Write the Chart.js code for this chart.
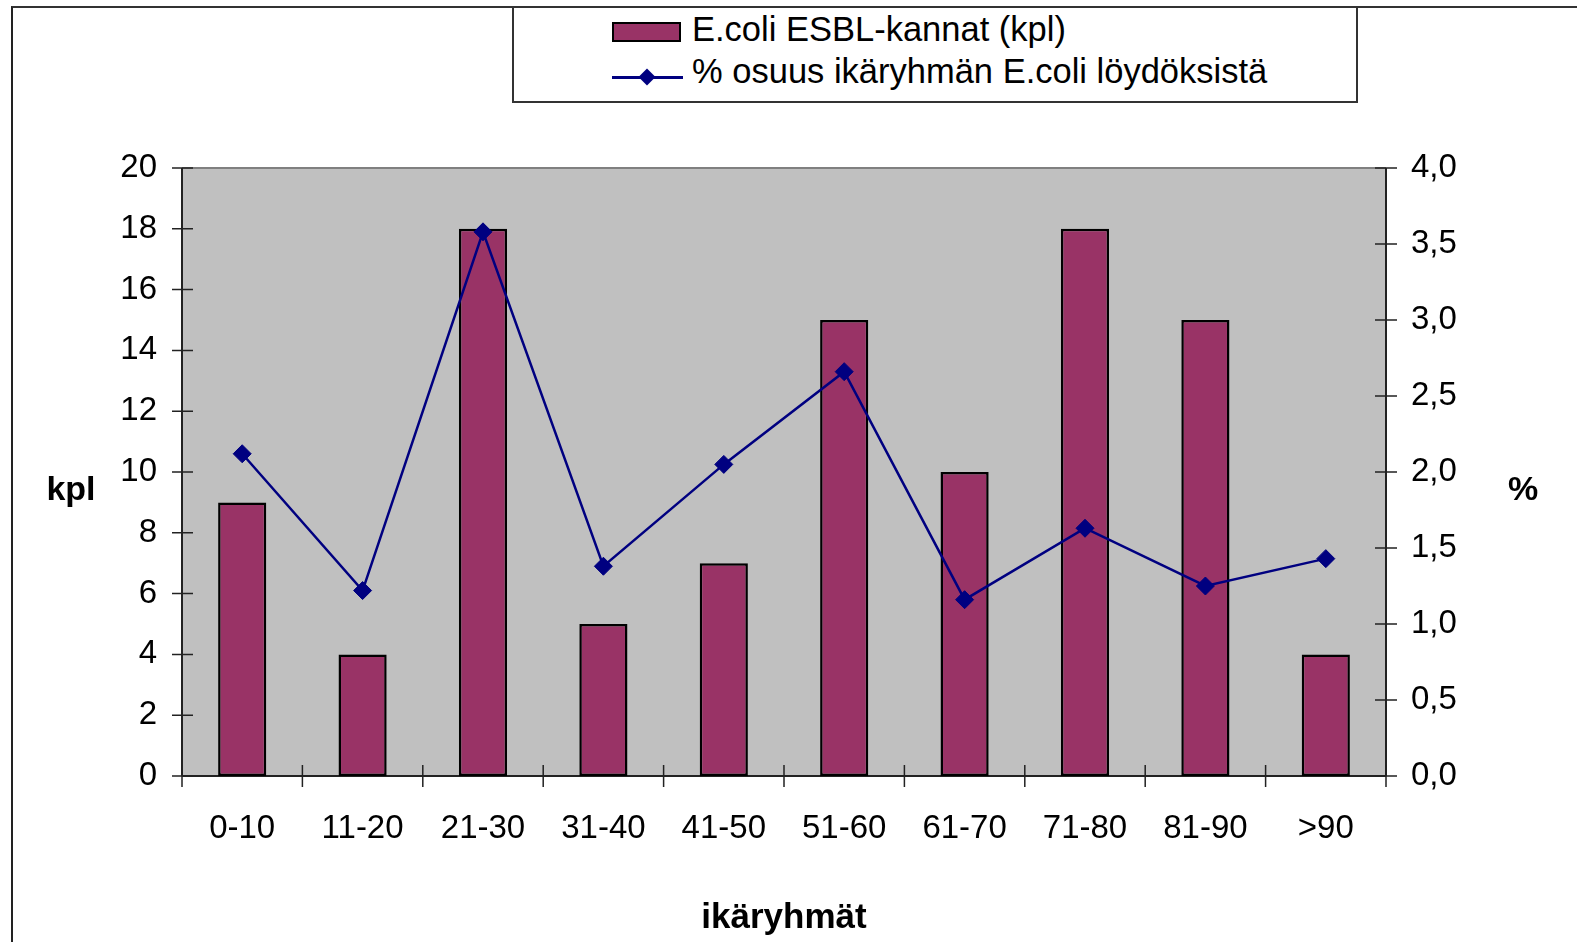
<!DOCTYPE html>
<html>
<head>
<meta charset="utf-8">
<script src="https://cdn.jsdelivr.net/npm/chart.js@4/dist/chart.umd.min.js"></script>
<style>
  html, body { margin: 0; padding: 0; background: #fff; overflow: hidden; }
  #wrap { position: relative; width: 1577px; height: 942px; font-family: "Liberation Sans", Arial, sans-serif; }
  #frame { position: absolute; left: 11px; top: 6px; width: 1580px; height: 950px;
           border-top: 2px solid #333; border-left: 2px solid #222; box-sizing: border-box; }
  #legend { position: absolute; left: 512px; top: 6px; width: 846px; height: 97px;
            border: 2px solid #333; box-sizing: border-box; background: #fff; }
  .row { position: absolute; left: 0; height: 40px; line-height: 40px; font-size: 34.5px; color: #000; white-space: nowrap; }
  .sym { position: absolute; }
  .txt { position: absolute; left: 178px; top: 0; }
</style>
</head>
<body>
<div id="wrap">
  <div id="frame"></div>
  <div style="position:absolute;left:0;top:0;width:1577px;height:942px;">
    <canvas id="chart"></canvas>
  </div>
  <div id="legend"></div>
</div>
<script>
// age groups and values
var categories = ['0-10', '11-20', '21-30', '31-40', '41-50', '51-60', '61-70', '71-80', '81-90', '>90'];
var esblCounts = [9, 4, 18, 5, 7, 15, 10, 18, 15, 4];
var percentShare = [2.12, 1.22, 3.58, 1.38, 2.05, 2.66, 1.16, 1.63, 1.25, 1.43];

var barLabel = 'E.coli ESBL-kannat (kpl)';
var lineLabel = '% osuus ikäryhmän E.coli löydöksistä';
var xTitle = 'ikäryhmät';
var leftTitle = 'kpl';
var rightTitle = '%';

var barColor = '#993366';
var lineColor = '#000080';

Chart.defaults.font.family = '"Liberation Sans", Arial, sans-serif';
Chart.defaults.color = '#000';

// plot background, frame, axis lines and crossing tick marks
var plotDeco = {
  id: 'plotDeco',
  beforeDatasetsDraw: function (chart) {
    var ctx = chart.ctx;
    var a = chart.chartArea;
    var x = chart.scales.x, y = chart.scales.y, y1 = chart.scales.y1;
    ctx.save();
    ctx.fillStyle = '#c0c0c0';
    ctx.fillRect(a.left, a.top, a.right - a.left, a.bottom - a.top);

    ctx.strokeStyle = '#808080';
    ctx.lineWidth = 2;
    ctx.beginPath();
    ctx.moveTo(a.left, a.top);
    ctx.lineTo(a.right, a.top);
    ctx.stroke();

    ctx.strokeStyle = '#222';
    ctx.lineWidth = 2;
    ctx.beginPath();
    ctx.moveTo(a.left, a.top); ctx.lineTo(a.left, a.bottom);
    ctx.moveTo(a.right, a.top); ctx.lineTo(a.right, a.bottom);
    ctx.moveTo(a.left, a.bottom); ctx.lineTo(a.right, a.bottom);
    ctx.stroke();

    ctx.lineWidth = 1.5;
    ctx.beginPath();
    y.ticks.forEach(function (t) {
      var py = y.getPixelForValue(t.value);
      ctx.moveTo(a.left - 10, py); ctx.lineTo(a.left + 11, py);
    });
    y1.ticks.forEach(function (t) {
      var py = y1.getPixelForValue(t.value);
      ctx.moveTo(a.right - 11, py); ctx.lineTo(a.right + 11, py);
    });
    for (var i = 0; i <= categories.length; i++) {
      var px = x.getPixelForValue(i - 0.5);
      ctx.moveTo(px, a.bottom - 11); ctx.lineTo(px, a.bottom + 11);
    }
    ctx.stroke();

    ctx.fillStyle = '#000';
    ctx.font = 'bold 34px "Liberation Sans", Arial, sans-serif';
    ctx.textAlign = 'center';
    ctx.textBaseline = 'middle';
    ctx.fillText(leftTitle, 71, 491);
    ctx.fillText(rightTitle, 1523, 491);
    ctx.restore();
  }
};

var ctx = document.getElementById('chart').getContext('2d');
var chart = new Chart(ctx, {
  type: 'bar',
  data: {
    labels: categories,
    datasets: [
      {
        type: 'bar',
        label: barLabel,
        data: esblCounts,
        yAxisID: 'y',
        backgroundColor: barColor,
        borderColor: '#000',
        borderWidth: 2.5,
        borderSkipped: false,
        barPercentage: 0.4,
        categoryPercentage: 1,
        order: 2
      },
      {
        type: 'line',
        label: lineLabel,
        data: percentShare,
        yAxisID: 'y1',
        borderColor: lineColor,
        backgroundColor: lineColor,
        borderWidth: 2.5,
        pointStyle: 'rectRot',
        pointRadius: 9,
        pointBorderWidth: 1,
        tension: 0,
        order: 1
      }
    ]
  },
  options: {
    responsive: true,
    maintainAspectRatio: false,
    animation: false,
    layout: { padding: { left: 0, right: 0, top: 168, bottom: 0 } },
    plugins: {
      legend: { display: false },
      tooltip: { enabled: false }
    },
    scales: {
      x: {
        grid: { display: false },
        border: { display: false },
        ticks: { font: { size: 33 }, padding: 25, maxRotation: 0, autoSkip: false },
        title: { display: true, text: xTitle, font: { size: 35, weight: 'bold' }, padding: { top: 0, bottom: 3 } },
        afterFit: function (s) { s.height = 166; }
      },
      y: {
        position: 'left',
        min: 0, max: 20,
        grid: { display: false },
        border: { display: false },
        ticks: { stepSize: 2, font: { size: 33 }, padding: 17 },
        afterFit: function (s) { s.width = 182; }
      },
      y1: {
        position: 'right',
        min: 0, max: 4,
        grid: { display: false },
        border: { display: false },
        ticks: {
          stepSize: 0.5, font: { size: 33 }, padding: 17,
          callback: function (v) { return Number(v).toFixed(1).replace('.', ','); }
        },
        afterFit: function (s) { s.width = 191; }
      }
    }
  },
  plugins: [plotDeco]
});

// boxed legend built from the dataset labels
var legend = document.getElementById('legend');
legend.innerHTML =
  '<div class="row" style="top:1px;width:100%">' +
    '<div class="sym" style="left:98px;top:13px;width:69px;height:20px;background:' + barColor + ';border:2px solid #000;box-sizing:border-box"></div>' +
    '<div class="txt">' + barLabel + '</div>' +
  '</div>' +
  '<div class="row" style="top:43px;width:100%">' +
    '<div class="sym" style="left:98px;top:25px;width:71px;height:3px;background:' + lineColor + '"></div>' +
    '<div class="sym" style="left:127px;top:20px;width:12px;height:12px;background:' + lineColor + ';transform:rotate(45deg)"></div>' +
    '<div class="txt">' + lineLabel + '</div>' +
  '</div>';
</script>
</body>
</html>
